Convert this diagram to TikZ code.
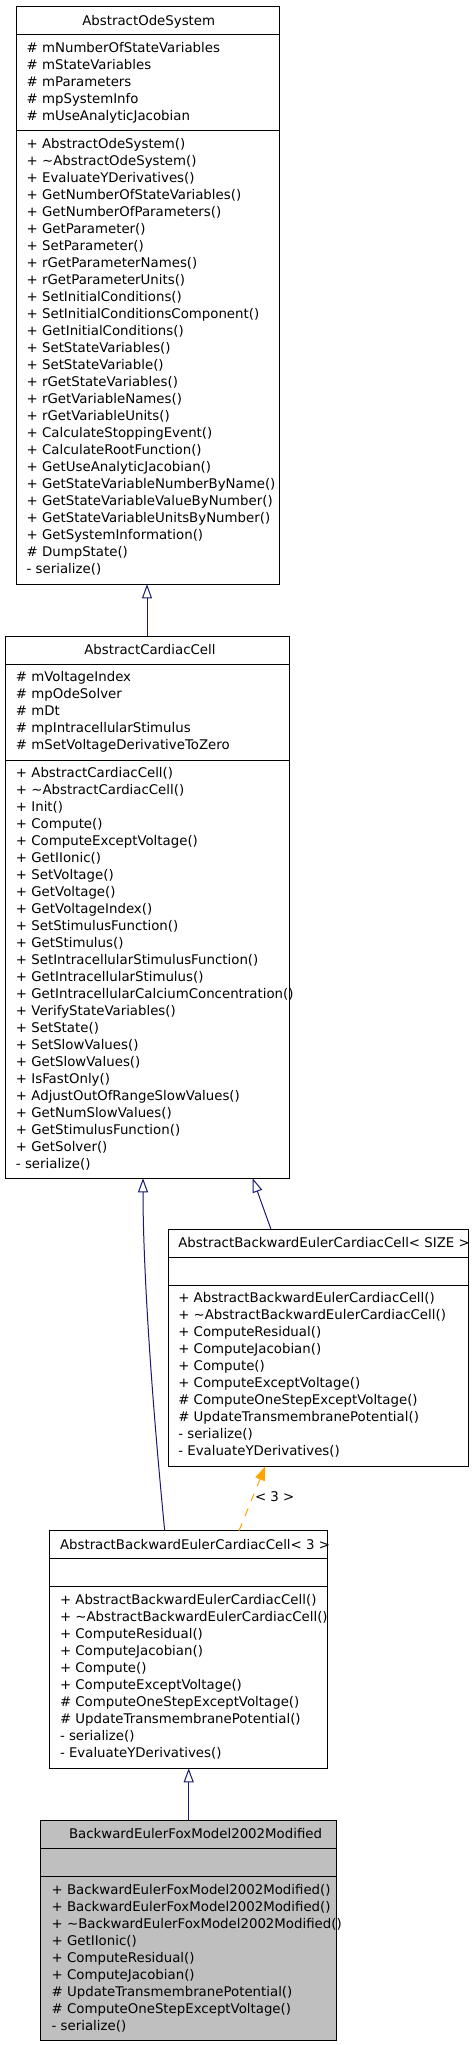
\documentclass[tikz,border=0pt]{standalone}
\usepackage{fontspec}
\setmainfont{DejaVu Sans}
\usetikzlibrary{arrows.meta,calc}
\definecolor{navy}{HTML}{191970}
\definecolor{dorange}{HTML}{FFA500}
\definecolor{boxgray}{HTML}{BFBFBF}
\begin{document}
\begin{tikzpicture}[x=1pt,y=-1pt,
  font=\fontsize{13.33}{17}\selectfont,
  classbox/.style={draw=black,line width=1pt,rectangle,inner sep=0pt,outer sep=0pt,anchor=north west},
  mem/.style={anchor=base west,inner sep=0pt,outer sep=0pt},
  inherit/.style={draw=navy,line width=1pt,-{Triangle[open,length=14pt,width=10pt]}},
  templ/.style={draw=dorange,line width=1pt,dash pattern=on 8pt off 8pt,-{Triangle[length=14pt,width=10pt,fill=dorange]}}]
\useasboundingbox (0,0) rectangle (472,2045);
\fill[white] (0,0) rectangle (472,2045);

% ---- Box 1: AbstractOdeSystem
\node[classbox,minimum width=263pt,minimum height=578pt] (b1) at (16.3,6.3) {};
\draw[line width=1pt] (16.3,34.3) -- (279.3,34.3);
\draw[line width=1pt] (16.3,130.3) -- (279.3,130.3);
\node[mem] (b1t) at (82.3,25.9) {AbstractOdeSystem};
\foreach \t [count=\i from 0] in {\# mNumberOfStateVariables,\# mStateVariables,\# mParameters,\# mpSystemInfo,\# mUseAnalyticJacobian}
  \node[mem] (b1a\i) at (26.7,52.5+17*\i) {\t};
\foreach \t [count=\i from 0] in {+ AbstractOdeSystem(),+ \textasciitilde AbstractOdeSystem(),+ EvaluateYDerivatives(),+ GetNumberOfStateVariables(),+ GetNumberOfParameters(),+ GetParameter(),+ SetParameter(),+ rGetParameterNames(),+ rGetParameterUnits(),+ SetInitialConditions(),+ SetInitialConditionsComponent(),+ GetInitialConditions(),+ SetStateVariables(),+ SetStateVariable(),+ rGetStateVariables(),+ rGetVariableNames(),+ rGetVariableUnits(),+ CalculateStoppingEvent(),+ CalculateRootFunction(),+ GetUseAnalyticJacobian(),+ GetStateVariableNumberByName(),+ GetStateVariableValueByNumber(),+ GetStateVariableUnitsByNumber(),+ GetSystemInformation(),\# DumpState(),- serialize()}
  \node[mem] (b1m\i) at (26.7,148.5+17*\i) {\t};

% ---- Box 2: AbstractCardiacCell
\node[classbox,minimum width=284pt,minimum height=542.3pt] (b2) at (5.3,636) {};
\draw[line width=1pt] (5.3,664) -- (289.3,664);
\draw[line width=1pt] (5.3,760.3) -- (289.3,760.3);
\node[mem] (b2t) at (84.3,654.5) {AbstractCardiacCell};
\foreach \t [count=\i from 0] in {\# mVoltageIndex,\# mpOdeSolver,\# mDt,\# mpIntracellularStimulus,\# mSetVoltageDerivativeToZero}
  \node[mem] (b2a\i) at (16,681.9+17*\i) {\t};
\foreach \t [count=\i from 0] in {+ AbstractCardiacCell(),+ \textasciitilde AbstractCardiacCell(),+ Init(),+ Compute(),+ ComputeExceptVoltage(),+ GetIIonic(),+ SetVoltage(),+ GetVoltage(),+ GetVoltageIndex(),+ SetStimulusFunction(),+ GetStimulus(),+ SetIntracellularStimulusFunction(),+ GetIntracellularStimulus(),+ GetIntracellularCalciumConcentration(),+ VerifyStateVariables(),+ SetState(),+ SetSlowValues(),+ GetSlowValues(),+ IsFastOnly(),+ AdjustOutOfRangeSlowValues(),+ GetNumSlowValues(),+ GetStimulusFunction(),+ GetSolver(),- serialize()}
  \node[mem] (b2m\i) at (16,777.5+17*\i) {\t};

% ---- Box 3: AbstractBackwardEulerCardiacCell< SIZE >
\node[classbox,minimum width=300pt,minimum height=237pt] (b3) at (168.3,1229.3) {};
\draw[line width=1pt] (168.3,1257.3) -- (468.3,1257.3);
\draw[line width=1pt] (168.3,1285.3) -- (468.3,1285.3);
\node[mem] (b3t) at (178.3,1247.9) {AbstractBackwardEulerCardiacCell< SIZE >};
\foreach \t [count=\i from 0] in {+ AbstractBackwardEulerCardiacCell(),+ \textasciitilde AbstractBackwardEulerCardiacCell(),+ ComputeResidual(),+ ComputeJacobian(),+ Compute(),+ ComputeExceptVoltage(),\# ComputeOneStepExceptVoltage(),\# UpdateTransmembranePotential(),- serialize(),- EvaluateYDerivatives()}
  \node[mem] (b3m\i) at (178.3,1302.9+17*\i) {\t};

% ---- Box 4: AbstractBackwardEulerCardiacCell< 3 >
\node[classbox,minimum width=278.4pt,minimum height=237.6pt] (b4) at (49.3,1530.7) {};
\draw[line width=1pt] (49.3,1558.7) -- (327.7,1558.7);
\draw[line width=1pt] (49.3,1586.7) -- (327.7,1586.7);
\node[mem] (b4t) at (60,1549.5) {AbstractBackwardEulerCardiacCell< 3 >};
\foreach \t [count=\i from 0] in {+ AbstractBackwardEulerCardiacCell(),+ \textasciitilde AbstractBackwardEulerCardiacCell(),+ ComputeResidual(),+ ComputeJacobian(),+ Compute(),+ ComputeExceptVoltage(),\# ComputeOneStepExceptVoltage(),\# UpdateTransmembranePotential(),- serialize(),- EvaluateYDerivatives()}
  \node[mem] (b4m\i) at (60,1604.5+17*\i) {\t};

% ---- Box 5: BackwardEulerFoxModel2002Modified
\node[classbox,fill=boxgray,minimum width=296pt,minimum height=219.6pt] (b5) at (40.3,1820.7) {};
\draw[line width=1pt] (40.3,1848.7) -- (336.3,1848.7);
\draw[line width=1pt] (40.3,1876.3) -- (336.3,1876.3);
\node[mem] (b5t) at (69,1838.2) {BackwardEulerFoxModel2002Modified};
\foreach \t [count=\i from 0] in {+ BackwardEulerFoxModel2002Modified(),+ BackwardEulerFoxModel2002Modified(),+ \textasciitilde BackwardEulerFoxModel2002Modified(),+ GetIIonic(),+ ComputeResidual(),+ ComputeJacobian(),\# UpdateTransmembranePotential(),\# ComputeOneStepExceptVoltage(),- serialize()}
  \node[mem] (b5m\i) at (51.7,1894.5+17*\i) {\t};

% ---- Connectors
\draw[inherit] ($(b2.north west)+(141.7,0)$) -- ($(b1.south west)+(130.7,0)$);
\draw[inherit] ($(b4.north west)+(115.4,0)$) .. controls (150,1380) and (143,1260) .. ($(b2.south west)+(137.7,0)$);
\draw[inherit] ($(b3.north west)+(102.7,0)$) -- ($(b2.south west)+(247.4,0)$);
\draw[templ] ($(b4.north west)+(189.7,0)$) -- ($(b3.south west)+(97,0)$);
\node[mem] (lbl) at (255,1501.7) {< 3 >};
\draw[inherit] ($(b5.north west)+(148.4,0)$) -- ($(b4.south west)+(139.4,0)$);
\end{tikzpicture}
\end{document}
